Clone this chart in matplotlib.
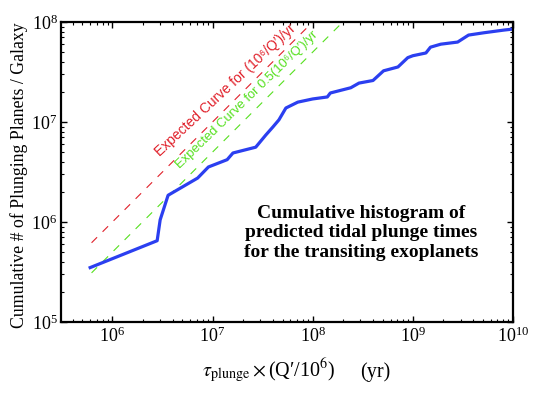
import matplotlib
matplotlib.use('Agg')
import matplotlib.pyplot as plt

plt.rcParams['font.family'] = ['Liberation Serif', 'DejaVu Serif']
plt.rcParams['mathtext.fontset'] = 'stix'

# cumulative histogram of plunge times
tau_plunge = [6.0e5, 2.8e6, 3.0e6, 3.6e6, 7.1e6, 9.1e6, 1.4e7, 1.6e7, 2.7e7, 3.4e7,
              4.0e7, 4.6e7, 5.4e7, 7.1e7, 1.0e8, 1.4e8, 1.5e8, 2.4e8, 2.9e8, 4.0e8,
              5.1e8, 7.1e8, 8.9e8, 1.0e9, 1.35e9, 1.5e9, 1.9e9, 2.8e9, 3.6e9, 5.1e9,
              8.1e9, 1.0e10]
n_plunging = [3.5e5, 6.5e5, 1.05e6, 1.85e6, 2.75e6, 3.55e6, 4.2e6, 4.9e6, 5.6e6, 7.4e6,
              8.9e6, 1.05e7, 1.38e7, 1.58e7, 1.7e7, 1.78e7, 1.95e7, 2.2e7, 2.45e7, 2.6e7,
              3.25e7, 3.55e7, 4.4e7, 4.6e7, 4.9e7, 5.6e7, 6.0e7, 6.3e7, 7.4e7, 7.8e7,
              8.3e7, 8.5e7]

# expected curves: N = rate * tau
expected_tau = [6.2e5, 1e10]
expected_rates = [1.0, 0.5]
expected_labels = ["Expected Curve for (10\u2076/Q\u2032)/yr",
                   "Expected Curve for 0.5(10\u2076/Q\u2032)/yr"]
expected_colors = ['#e0202a', '#55e01e']

fig = plt.figure(figsize=(5.35, 3.93), dpi=100)
ax = fig.add_axes([61/535, 1-322/393, 452/535, 300/393])

for rate, col in zip(expected_rates, expected_colors):
    ax.plot(expected_tau, [rate*t for t in expected_tau], color=col, lw=0.8,
            dashes=(7, 7))
ax.plot(tau_plunge, n_plunging, color='#2b3ff0', lw=2.3)

ax.set_xscale('log')
ax.set_yscale('log')
ax.set_xlim(3.07e5, 1e10)
ax.set_ylim(1e5, 1e8)

ax.tick_params(which='both', direction='in', top=True, right=True, labelsize=13)
ax.tick_params(which='major', length=4, width=1)
ax.tick_params(which='minor', length=2, width=0.8)
ax.tick_params(axis='y', pad=2.5)
for s in ax.spines.values():
    s.set_linewidth(1.6)

ax.set_ylabel('Cumulative # of Plunging Planets / Galaxy', fontsize=12.8)
ax.yaxis.set_label_coords(-0.072, 0.49)
ax.set_xlabel('$\\tau_{\\mathrm{plunge}}\\times$(Q\u2032/10$^{6}$)', fontsize=14.5)
ax.xaxis.label.set_ha('left')
ax.xaxis.label.set_va('baseline')
ax.xaxis.set_label_coords(0.312, -0.183)
ax.text(0.661, -0.183, '(yr)', transform=ax.transAxes, ha='left', va='baseline',
        fontsize=14.5)

# rotated labels along the expected curves
ax.text(10**6.50, 10**6.63, expected_labels[0], color=expected_colors[0],
        rotation=43, rotation_mode='anchor', ha='left', va='bottom',
        fontsize=10, family=['Liberation Sans', 'DejaVu Sans'])
ax.text(10**6.70, 10**6.51, expected_labels[1], color=expected_colors[1],
        rotation=44, rotation_mode='anchor', ha='left', va='bottom',
        fontsize=9.4, family=['Liberation Sans', 'DejaVu Sans'])

ax.text(0.664, 0.297, 'Cumulative histogram of\npredicted tidal plunge times\nfor the transiting exoplanets',
        transform=ax.transAxes, ha='center', va='center', fontsize=14,
        fontweight='bold', linespacing=1.2)

fig.savefig('out.png', dpi=100)
